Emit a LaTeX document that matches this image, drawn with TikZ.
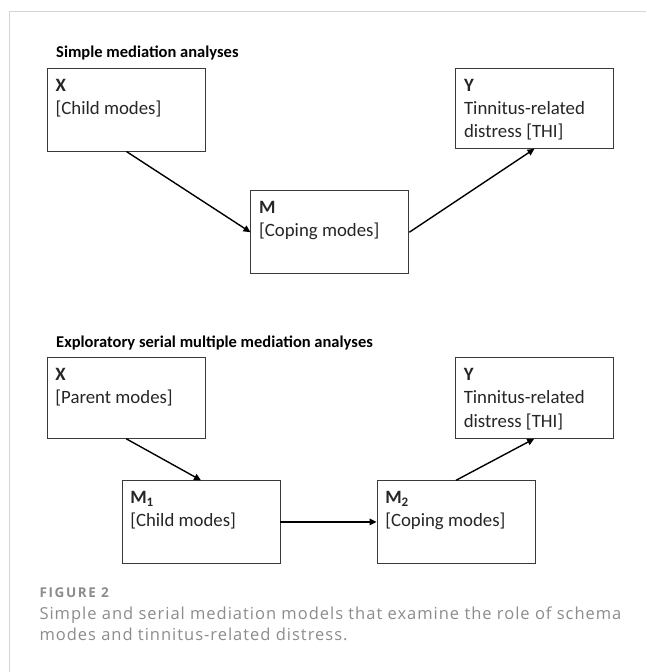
\documentclass[tikz,border=0pt]{standalone}
\usepackage{fontspec}
\setmainfont{Carlito}
\newfontfamily\capfont[LetterSpace=6]{Open Sans}
\newfontfamily\figfont[LetterSpace=12]{Open Sans}
\usetikzlibrary{arrows.meta,calc}
\definecolor{framegray}{HTML}{D4D4D4}
\definecolor{capgray}{HTML}{8C8C8C}
\definecolor{boxline}{HTML}{3A3A3A}
\definecolor{boxtext}{HTML}{262626}
\begin{document}
\begin{tikzpicture}[x=1pt,y=-1pt,
  mbox/.style={draw=boxline,line width=0.9pt,minimum width=158pt,inner sep=0pt,rectangle},
  btxt/.style={anchor=base west,inner sep=0pt,font=\fontsize{18.8}{22}\selectfont,text=boxtext},
  ttl/.style={anchor=base west,inner sep=0pt,font=\fontsize{16.5}{20}\selectfont\bfseries},
  arr/.style={-{Triangle[length=7pt,width=6.5pt]},line width=1.4pt,black},
  captxt/.style={anchor=base west,inner sep=0pt,text=capgray}]
\useasboundingbox (0,0) rectangle (646,672);
\fill[white] (0,0) rectangle (646,672);
% frame lines
\coordinate (fA) at (9.3,672);
\coordinate (fB) at (9.3,11);
\coordinate (fC) at (646,11);
\draw[framegray,line width=1pt] (fA) -- (fB) -- (fC);
% titles
\node[ttl] (t1) at (56,57.5) {Simple mediation analyses};
\node[ttl] (t2) at (56,347.5) {Exploratory serial multiple mediation analyses};
% simple mediation boxes
\node[mbox,minimum height=82.7pt] (X1) at (126.4,109.7) {};
\node[mbox,minimum height=80pt] (Y1) at (534.5,108.3) {};
\node[mbox,minimum height=83pt] (M) at (329.9,232.2) {};
% serial boxes
\node[mbox,minimum height=80.6pt] (X2) at (126.2,398) {};
\node[mbox,minimum height=80.6pt] (Y2) at (534.2,398) {};
\node[mbox,minimum height=82.3pt] (M1) at (201,521.9) {};
\node[mbox,minimum height=82.3pt] (M2) at (456,521.9) {};
% box texts
\node[btxt] (X1a) at ($(X1.north west)+(8.5,23.2)$) {\textbf{X}};
\node[btxt] (X1b) at ($(X1.north west)+(8.5,46.6)$) {[Child modes]};
\node[btxt] (Y1a) at ($(Y1.north west)+(8.8,23.2)$) {\textbf{Y}};
\node[btxt] (Y1b) at ($(Y1.north west)+(8.8,46.6)$) {Tinnitus-related};
\node[btxt] (Y1c) at ($(Y1.north west)+(8.8,70)$) {distress [THI]};
\node[btxt] (Ma) at ($(M.north west)+(8.5,23.2)$) {\textbf{M}};
\node[btxt] (Mb) at ($(M.north west)+(8.5,46.6)$) {[Coping modes]};
\node[btxt] (X2a) at ($(X2.north west)+(8.5,23.2)$) {\textbf{X}};
\node[btxt] (X2b) at ($(X2.north west)+(8.5,46.6)$) {[Parent modes]};
\node[btxt] (Y2a) at ($(Y2.north west)+(8.8,23.2)$) {\textbf{Y}};
\node[btxt] (Y2b) at ($(Y2.north west)+(8.8,46.6)$) {Tinnitus-related};
\node[btxt] (Y2c) at ($(Y2.north west)+(8.8,70)$) {distress [THI]};
\node[btxt] (M1a) at ($(M1.north west)+(8.5,23.2)$) {\textbf{M\raisebox{-0.3ex}{\fontsize{13}{13}\selectfont 1}}};
\node[btxt] (M1b) at ($(M1.north west)+(8.5,46.6)$) {[Child modes]};
\node[btxt] (M2a) at ($(M2.north west)+(8.5,23.2)$) {\textbf{M\raisebox{-0.3ex}{\fontsize{13}{13}\selectfont 2}}};
\node[btxt] (M2b) at ($(M2.north west)+(8.5,46.6)$) {[Coping modes]};
% arrows
\draw[arr] (X1.south) -- (M.west);
\draw[arr] (M.east) -- (Y1.south);
\draw[arr] (X2.south) -- (M1.north);
\draw[arr] (M1.east) -- (M2.west);
\draw[arr] (M2.north) -- (Y2.south);
% caption
\node[captxt,font=\figfont\fontsize{13.5}{15}\selectfont\bfseries] (c0) at (39.3,597.5) {FIGURE 2};
\node[captxt,font=\capfont\fontsize{16.5}{20}\selectfont] (c1) at (39.3,619) {Simple and serial mediation models that examine the role of schema};
\node[captxt,font=\capfont\fontsize{16.5}{20}\selectfont] (c2) at (39.3,640.5) {modes and tinnitus-related distress.};
\end{tikzpicture}
\end{document}
